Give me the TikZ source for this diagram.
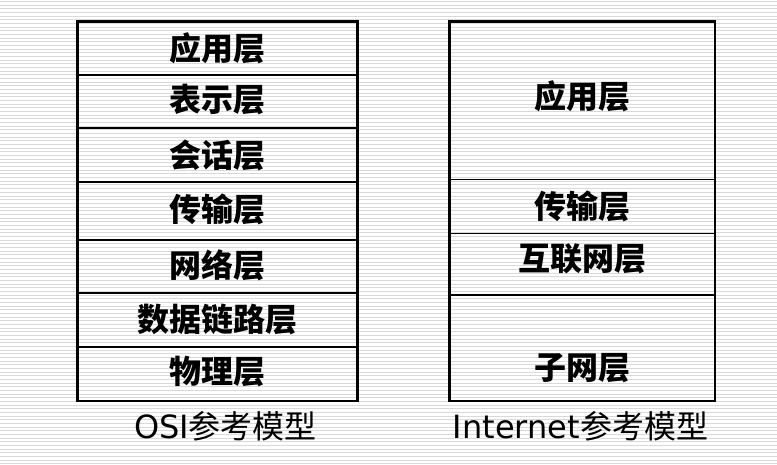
\documentclass[tikz,border=0pt]{standalone}
\usepackage{fontspec}
\setmainfont{DejaVu Sans}
\newfontfamily\cjk{Noto Sans CJK SC}
\definecolor{stripeGrey}{HTML}{D9D9D9}
\tikzset{
  stripe/.style={draw=stripeGrey, line width=1pt},
  frame/.style={draw=black, line width=2.7pt},
  divider/.style={draw=black, line width=1.3pt},
  layer/.style={font=\cjk\bfseries\fontsize{32}{36}\selectfont, inner sep=0pt},
  caption/.style={font=\fontsize{32}{36}\selectfont, inner sep=0pt}
}
\begin{document}
\begin{tikzpicture}[x=1pt, y=-1pt]
  \useasboundingbox (0,0) rectangle (777,465);
  % striped background
  \foreach \i in {0,...,126}
    \draw[stripe] (0,{\i*3.67+1.5}) -- (777,{\i*3.67+1.5});
  % OSI stack
  \draw[frame] (77.6,21.4) rectangle (357.8,401);
  \foreach \y in {75,128,182,240,293,347}
    \draw[divider] (77.6,\y) -- (357.8,\y);
  \node[layer] (osiApp) at (217.5,48) {应用层};
  \node[layer] (osiPres) at (217.5,100) {表示层};
  \node[layer] (osiSess) at (217.5,155) {会话层};
  \node[layer] (osiTrans) at (217.5,209) {传输层};
  \node[layer] (osiNet) at (217.5,265) {网络层};
  \node[layer] (osiLink) at (217.5,319) {数据链路层};
  \node[layer] (osiPhys) at (217.5,372) {物理层};
  \node[caption] (osiCap) at (225.5,426) {OSI{\cjk 参考模型}};
  % Internet stack
  \draw[frame] (449.6,21.4) rectangle (715,401);
  \foreach \y in {179.5,233.5,295}
    \draw[divider] (449.6,\y) -- (715,\y);
  \node[layer] (inetApp) at (582,96) {应用层};
  \node[layer] (inetTrans) at (582,206) {传输层};
  \node[layer] (inetNet) at (582,259) {互联网层};
  \node[layer] (inetSub) at (582,368) {子网层};
  \node[caption] (inetCap) at (580.5,426) {Internet{\cjk 参考模型}};
\end{tikzpicture}
\end{document}
